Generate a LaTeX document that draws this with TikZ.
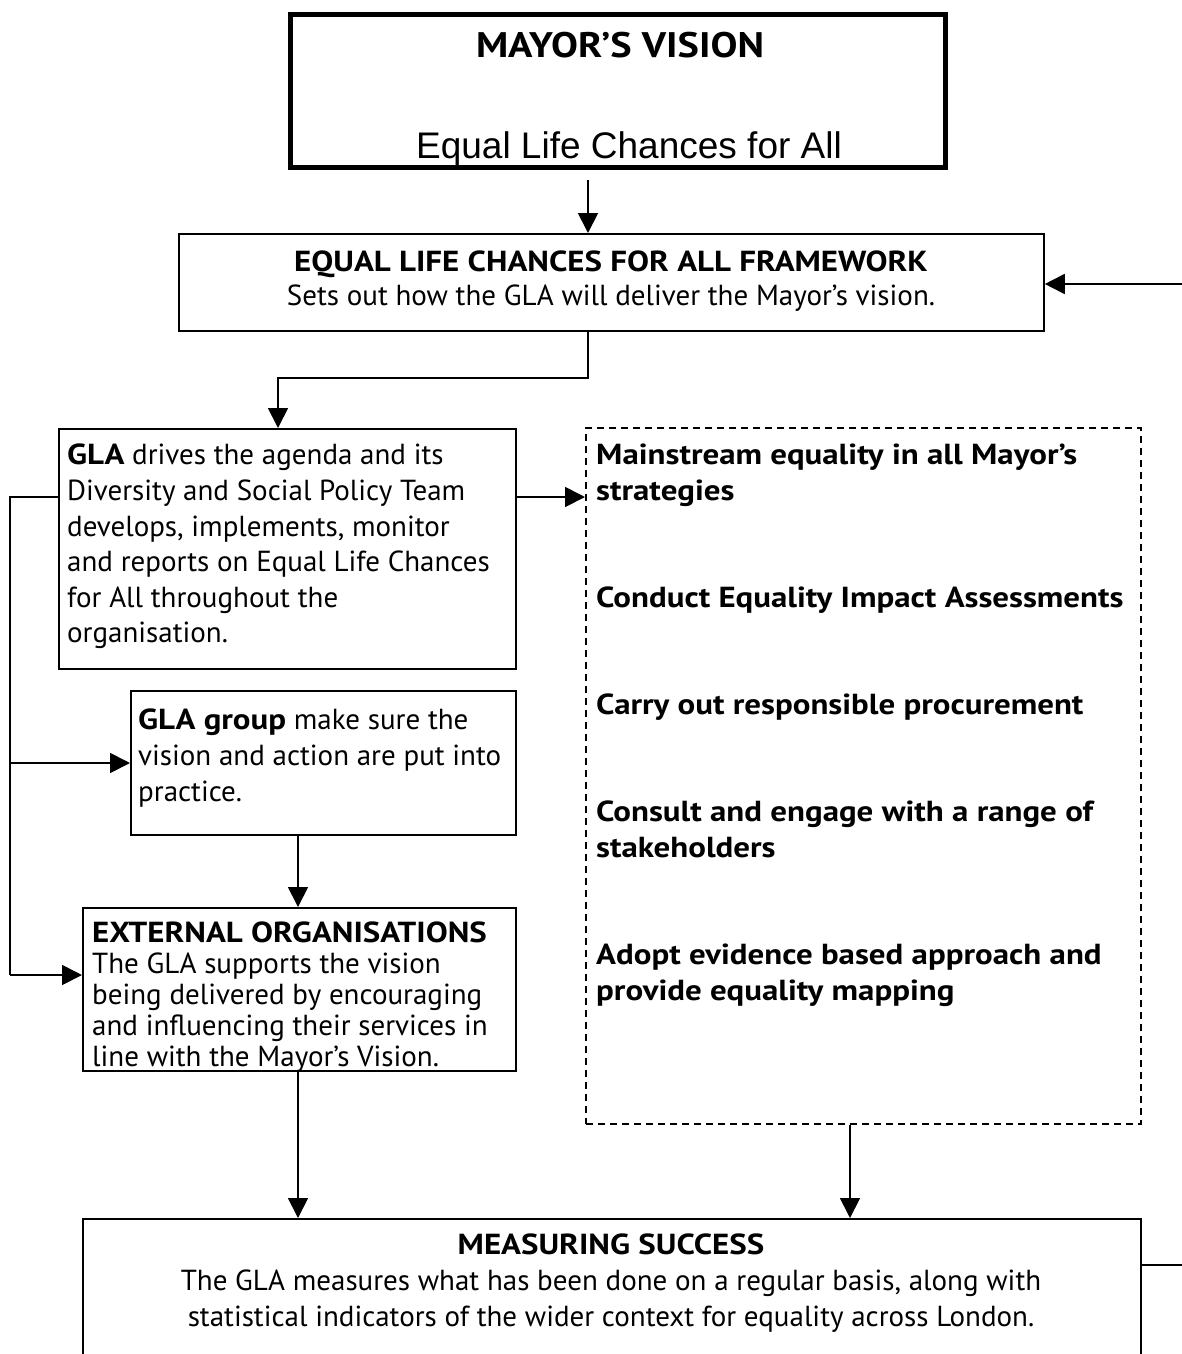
\documentclass[tikz,border=0pt]{standalone}
\usepackage{fontspec}
\setmainfont{PT Sans}[BoldFeatures={FakeStretch=1.135}]
\newfontfamily\arialf{Liberation Sans}
\usetikzlibrary{arrows.meta,calc}
\begin{document}
\begin{tikzpicture}[x=1pt,y=-1pt,
  box/.style={draw, line width=1.8pt, inner sep=0pt, anchor=north west},
  txt/.style={inner sep=0pt, anchor=north west, align=left, font=\fontsize{29}{35.6}\selectfont},
  btxt/.style={txt, font=\bfseries\fontsize{29}{35.6}\selectfont},
  ctxt/.style={inner sep=0pt, anchor=north, align=center, font=\fontsize{29}{35.6}\selectfont},
  arr/.style={line width=1.8pt, -{Triangle[length=20pt,width=20pt]}},
  ln/.style={line width=1.8pt},
]
\useasboundingbox (0,0) rectangle (1182,1354);
\clip (0,0) rectangle (1182,1354);

% top box
\node[box, line width=5pt, minimum width=655pt, minimum height=152.5pt] (top) at (287.5,12.5) {};
\begin{scope}
\clip (top.north west) rectangle (top.south east);
\node[inner sep=0pt, font=\bfseries\fontsize{35.5}{40}\selectfont] (topt) at (620,45) {MAYOR’S VISION};
\node[inner sep=0pt, font=\arialf\fontsize{37}{40}\selectfont] (tops) at (629,149) {Equal Life Chances for All};
\end{scope}

% framework
\node[box, minimum width=865pt, minimum height=97pt] (fw) at (178,233) {};
\node[ctxt, anchor=center, font=\fontsize{29}{34}\selectfont] (fwt) at (611,281)
  {\textbf{EQUAL LIFE CHANCES FOR ALL FRAMEWORK}\\Sets out how the GLA will deliver the Mayor’s vision.};

% GLA
\node[box, minimum width=457pt, minimum height=240pt] (gla) at (58,428) {};
\node[txt] (glat) at (67,444) {\textbf{GLA} drives the agenda and its\\Diversity and Social Policy Team\\develops, implements, monitor\\and reports on Equal Life Chances\\for All throughout the\\organisation.};

% GLA group
\node[box, minimum width=385pt, minimum height=144pt] (grp) at (130,690) {};
\node[txt] (grpt) at (138,709) {\textbf{GLA group} make sure the\\vision and action are put into\\practice.};

% External
\node[box, minimum width=433pt, minimum height=163pt] (ext) at (82,907) {};
\begin{scope}
\clip (ext.north west) rectangle (ext.south east);
\node[txt, font=\fontsize{29}{31}\selectfont] (extt) at (92,922) {\textbf{EXTERNAL ORGANISATIONS}\\The GLA supports the vision\\being delivered by encouraging\\and influencing their services in\\line with the Mayor’s Vision.};
\end{scope}

% dashed box
\node[box, line width=1.5pt, dash pattern=on 7pt off 5pt, minimum width=555pt, minimum height=696pt] (dash) at (585,427) {};
\node[btxt] (d1) at (596,444) {Mainstream equality in all Mayor’s\\strategies};
\node[btxt] (d2) at (596,587) {Conduct Equality Impact Assessments};
\node[btxt] (d3) at (596,694) {Carry out responsible procurement};
\node[btxt] (d4) at (596,801) {Consult and engage with a range of\\stakeholders};
\node[btxt] (d5) at (596,944) {Adopt evidence based approach and\\provide equality mapping};

% measuring
\node[box, minimum width=1058pt, minimum height=220pt] (meas) at (82,1218) {};
\node[ctxt] (meast) at (611,1234) {\textbf{MEASURING SUCCESS}\\The GLA measures what has been done on a regular basis, along with\\statistical indicators of the wider context for equality across London.};

% connectors
\coordinate (a1) at (588,180);
\draw[arr] (a1) -- (fw.north -| a1);
\coordinate (e1) at (278,378);
\draw[arr] (fw.south -| a1) |- (e1) -- (gla.north -| e1);
\coordinate (yg) at (10,497);
\draw[arr] (gla.east |- yg) -- (dash.west |- yg);
\coordinate (L2) at (10,763);
\coordinate (L3) at (10,975);
\draw[ln] (gla.west |- yg) -- (yg) -- (L3);
\draw[arr] (L2) -- (grp.west |- L2);
\draw[arr] (L3) -- (ext.west |- L3);
\coordinate (xg) at (298,0);
\draw[arr] (grp.south -| xg) -- (ext.north -| xg);
\draw[arr] (ext.south -| xg) -- (meas.north -| xg);
\coordinate (xd) at (850,0);
\draw[arr] (dash.south -| xd) -- (meas.north -| xd);
\coordinate (mr) at (1195,1265);
\draw[ln] (meas.east |- mr) -- (mr);
\coordinate (rin) at (1195,284);
\draw[arr] (rin) -- (fw.east |- rin);
\end{tikzpicture}
\end{document}
